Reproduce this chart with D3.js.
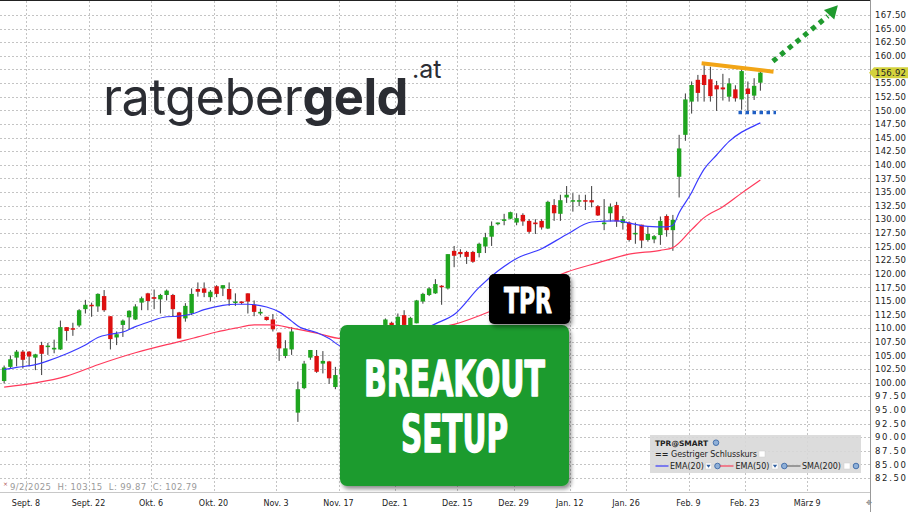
<!DOCTYPE html>
<html><head><meta charset="utf-8">
<script src="https://cdn.jsdelivr.net/npm/d3@7"></script>
<style>body{margin:0;background:#fff;}svg{display:block;}</style>
</head><body><svg id="c" width="911" height="512"></svg>
<script>
// ---------- DATA ----------
const firstDay = "2025-09-02";
const lastCalendarDay = "2026-03-20";
const holidays = ["2025-11-27","2025-12-25","2026-01-01","2026-01-19","2026-02-16"];

const open = [
100.3,102.9,104.6,105.7,105.7,104.6,106.9,106.6,106.1,106.1,
110.2,110.0,110.5,113.5,114.3,114.0,115.9,112.2,108.3,110.6,
112.0,111.6,114.7,116.4,115.7,115.3,116.1,116.1,112.9,111.8,
112.7,117.2,117.3,115.7,117.7,117.3,117.2,114.7,114.9,116.4,
114.3,112.7,112.1,111.6,109.2,104.9,106.1,94.5,99.0,104.6,
104.9,103.5,103.9,99.2,101.6,102.8,105.3,106.5,107.6,108.5,
109.4,110.6,111.0,110.0,112.4,110.4,110.9,114.9,116.1,116.4,
117.8,117.3,124.2,124.0,124.0,124.0,123.8,125.0,126.8,129.1,
129.7,130.1,129.4,130.8,129.7,129.4,129.7,128.3,132.6,131.0,
134.0,133.4,133.4,133.5,133.5,132.4,129.1,131.1,132.6,129.3,
129.4,127.3,129.0,126.2,126.3,127.1,130.6,128.0,137.8,145.5,
151.6,155.6,156.5,155.7,154.6,154.2,152.5,153.85,152.0,154.0,
152.7,155.07];
const high = [
103.15,105.0,106.0,106.0,105.8,105.3,107.5,107.3,107.9,111.4,
110.2,111.0,113.5,115.2,114.7,116.4,117.0,112.2,109.4,111.6,
113.3,114.4,115.8,116.5,117.1,116.3,117.1,116.3,113.0,114.6,
117.3,118.4,118.4,117.0,117.9,117.9,118.4,116.4,114.9,116.4,
115.1,113.6,112.1,112.6,109.2,107.8,110.2,100.2,104.0,106.0,
106.0,105.8,104.0,102.9,103.0,105.5,107.0,108.2,109.0,110.0,
110.3,111.8,111.2,112.7,113.3,112.1,115.2,116.5,117.5,119.0,
117.9,123.6,125.1,124.5,124.2,124.2,125.7,127.5,129.6,129.4,
131.0,131.4,131.1,131.1,130.0,130.0,130.0,133.4,133.7,134.5,
136.1,134.8,134.5,134.5,136.1,132.6,133.7,132.9,133.2,130.6,
129.6,129.4,129.0,128.6,127.1,130.5,130.9,130.8,145.5,153.1,
155.3,156.5,158.3,158.0,155.4,156.7,155.9,154.6,158.0,155.3,
155.9,157.4];
const low = [
99.87,102.7,103.0,102.6,103.0,102.3,101.4,105.1,105.4,106.0,
107.7,108.6,110.2,112.7,112.1,113.0,113.0,106.1,106.9,108.4,
109.8,111.5,113.3,113.3,113.5,112.7,115.1,112.2,108.1,111.2,
112.4,115.8,115.7,114.9,115.7,115.9,114.1,114.1,114.4,112.7,
112.2,112.4,111.4,109.4,104.0,104.5,105.1,92.8,98.8,104.2,
101.8,101.7,99.8,98.8,99.8,102.5,104.6,105.9,106.8,107.9,
108.6,110.0,109.8,109.6,110.2,110.0,110.9,114.5,115.9,116.3,
114.3,117.1,121.2,123.0,121.8,122.0,123.0,123.8,125.1,128.9,
128.9,130.0,128.9,128.8,127.4,127.3,128.1,128.2,129.7,129.7,
133.0,131.4,132.4,131.7,132.2,130.6,128.0,129.6,128.6,128.1,
125.9,125.5,124.7,125.9,125.6,125.3,126.8,124.2,134.0,144.4,
149.4,151.6,151.6,151.6,149.9,151.8,151.6,151.6,150.1,149.9,
151.9,153.6];
const close = [
102.79,104.3,105.7,104.2,104.8,105.2,105.3,106.8,106.4,110.2,
109.5,109.8,113.3,114.3,114.1,116.3,113.3,108.0,108.9,111.4,
113.2,114.0,115.5,115.0,115.4,116.1,116.9,113.5,108.1,114.1,
116.3,116.7,116.5,116.7,116.3,117.9,115.3,114.9,114.7,114.9,
113.0,113.0,111.5,109.8,106.3,106.3,109.4,98.8,103.5,106.0,
102.0,104.0,100.8,101.4,102.6,105.1,106.4,107.8,108.3,109.6,
109.9,111.6,110.5,112.1,110.6,111.9,115.1,116.3,117.3,118.1,
117.6,123.6,123.3,123.6,123.1,122.2,125.5,126.7,128.8,129.4,
130.0,131.3,130.2,129.6,127.7,129.1,128.5,133.2,131.1,133.5,
134.5,133.5,133.5,133.3,133.1,130.7,129.4,132.3,129.6,130.0,
126.2,127.5,126.1,127.3,126.9,129.7,128.0,129.9,143.0,152.0,
154.65,153.2,154.65,152.6,153.85,153.85,154.95,152.2,157.2,153.0,
154.5,156.92];

// EMA values at given trading-day indices
const ema20Days = [0,2,5,7,10,13,15,17,19,21,23,26,28,30,32,35,37,39,42,44,46,47,50,52,54,58,63,69,72,76,79,82,86,90,94,98,100,103,106,107,108,110,111,112,114,116,118,119,121];
const ema20 = [102.4,102.8,103.3,104.0,105.3,106.9,108.3,108.9,109.3,110.3,111.1,112.1,112.2,112.6,113.4,114.2,114.4,114.4,113.9,113.0,111.3,110.4,109.2,108.1,106.6,105.8,107.5,110.8,112.5,117.5,120.5,122.8,124.6,127.2,129.5,129.7,129.3,128.7,128.6,128.9,131.2,134.9,137.2,139.2,141.8,144.3,146.0,146.6,147.7];
const ema50Days = [0,5,10,15,21,26,29,31,34,37,40,43,46,50,54,60,66,72,78,90,95,100,105,107,110,112,115,118,121];
const ema50 = [99.2,99.95,101.2,103.3,105.5,107.0,107.8,108.4,109.3,110.0,110.6,110.6,110.0,109.1,108.1,108.3,109.5,110.7,113.2,120.3,122.0,123.6,124.3,124.8,128.1,130.3,132.3,134.8,137.2];

const yTickValues = [82.5,85,87.5,90,92.5,95,97.5,100,102.5,105,107.5,110,112.5,115,117.5,120,122.5,125,127.5,130,132.5,135,137.5,140,142.5,145,147.5,150,152.5,155,157.5,160,162.5,165,167.5];
const xTickDates = ["2025-09-08","2025-09-22","2025-10-06","2025-10-20","2025-11-03","2025-11-17","2025-12-01","2025-12-15","2025-12-29","2026-01-12","2026-01-26","2026-02-09","2026-02-23","2026-03-09"];
const xTickLabels = ["Sept. 8","Sept. 22","Okt. 6","Okt. 20","Nov. 3","Nov. 17","Dez. 1","Dez. 15","Dez. 29","Jan. 12","Jan. 26","Feb. 9","Feb. 23","März 9"];
const lastPrice = 156.92;
const infoText = "9/2/2025  H: 103.15  L: 99.87  C: 102.79";
// annotations in chart coordinates [dayIndex, price]
const resistanceLine = [[112.1,158.65],[123.6,157.1]];
const supportLine = [[118.0,149.6],[124.0,149.6]];
const breakoutArrow = [[123.5,159.0],[132.3,167.3]];
const arrowTip = [133.9,169.3];

// ---------- BUILD ----------
function tradingDays(){
  const out=[]; let d=new Date(firstDay+"T00:00:00Z"); const end=new Date(lastCalendarDay+"T00:00:00Z");
  while(d<=end){const wd=d.getUTCDay(); const s=d.toISOString().slice(0,10);
    if(wd!==0&&wd!==6&&!holidays.includes(s)) out.push(s);
    d=new Date(d.getTime()+86400000);}
  return out;
}
const days = tradingDays();
const dayIdx = new Map(days.map((d,i)=>[d,i]));
const candles = close.map((c,i)=>({i, o:open[i], h:high[i], l:low[i], c}));

const W=911,H=512, plotR=870, plotB=492;
const x = d3.scaleLinear().domain([0,139]).range([1, 1+139*6.25]);
const y = d3.scaleLinear().domain([82.5,167.5]).range([478,15]);
const svg = d3.select("#c");
svg.append("rect").attr("width",W).attr("height",H).attr("fill","#fff");

const defs = svg.append("defs");
const f = defs.append("filter").attr("id","sh").attr("x","-10%").attr("y","-10%").attr("width","130%").attr("height","140%");
f.append("feDropShadow").attr("dx",2).attr("dy",3).attr("stdDeviation",2).attr("flood-color","#000").attr("flood-opacity",0.45);

// grid
const grid = svg.append("g").attr("stroke","#c4c4c4").attr("stroke-width",1).attr("stroke-dasharray","2,2");
grid.selectAll("line.h").data(yTickValues).join("line")
  .attr("x1",0).attr("x2",plotR).attr("y1",d=>Math.round(y(d))+0.5).attr("y2",d=>Math.round(y(d))+0.5);
grid.selectAll("line.v").data(xTickDates).join("line")
  .attr("x1",d=>Math.round(x(dayIdx.get(d)))+0.5).attr("x2",d=>Math.round(x(dayIdx.get(d)))+0.5)
  .attr("y1",1).attr("y2",plotB);

// frame
svg.append("line").attr("x1",0).attr("x2",plotR).attr("y1",0.5).attr("y2",0.5).attr("stroke","#222");
svg.append("line").attr("x1",plotR+0.5).attr("x2",plotR+0.5).attr("y1",0).attr("y2",H).attr("stroke","#999");
svg.append("line").attr("x1",0).attr("x2",plotR).attr("y1",plotB+0.5).attr("y2",plotB+0.5).attr("stroke","#c8c8c8");

// candles
const cg = svg.append("g");
const bw = 4.4;
cg.selectAll("line.w").data(candles).join("line")
  .attr("x1",d=>x(d.i+0.5)).attr("x2",d=>x(d.i+0.5))
  .attr("y1",d=>y(d.h)).attr("y2",d=>y(d.l)).attr("stroke","#3a3a3a").attr("stroke-width",1);
cg.selectAll("rect").data(candles).join("rect")
  .attr("x",d=>x(d.i+0.5)-bw/2).attr("width",bw)
  .attr("y",d=>y(Math.max(d.o,d.c))).attr("height",d=>Math.max(1.5,Math.abs(y(d.o)-y(d.c))))
  .attr("fill",d=>d.c>=d.o?"#1fa51f":"#dd1010");

// EMAs
const line = d3.line().x(d=>x(d[0]+0.5)).y(d=>y(d[1])).curve(d3.curveMonotoneX);
svg.append("path").attr("d",line(ema50Days.map((d,k)=>[d,ema50[k]]))).attr("fill","none").attr("stroke","#ff3a5c").attr("stroke-width",1.2);
svg.append("path").attr("d",line(ema20Days.map((d,k)=>[d,ema20[k]]))).attr("fill","none").attr("stroke","#3a3aff").attr("stroke-width",1.2);

// annotations
const pt = d=>[x(d[0]),y(d[1])];
svg.append("line").attr("x1",pt(resistanceLine[0])[0]).attr("y1",pt(resistanceLine[0])[1])
  .attr("x2",pt(resistanceLine[1])[0]).attr("y2",pt(resistanceLine[1])[1])
  .attr("stroke","#f2a516").attr("stroke-width",4);
svg.append("line").attr("x1",pt(supportLine[0])[0]).attr("y1",pt(supportLine[0])[1])
  .attr("x2",pt(supportLine[1])[0]).attr("y2",pt(supportLine[1])[1])
  .attr("stroke","#1f5fc4").attr("stroke-width",3.5).attr("stroke-dasharray","3.5,3.5");
svg.append("line").attr("x1",pt(breakoutArrow[0])[0]).attr("y1",pt(breakoutArrow[0])[1])
  .attr("x2",pt(breakoutArrow[1])[0]).attr("y2",pt(breakoutArrow[1])[1])
  .attr("stroke","#1f9a2e").attr("stroke-width",5).attr("stroke-dasharray","5,5");
{
  const [tx,ty]=pt(arrowTip); const [bx,by]=pt(breakoutArrow[1]);
  const dx=tx-bx, dy=ty-by, L=Math.hypot(dx,dy), ux=dx/L, uy=dy/L, px=-uy, py=ux;
  const cx=tx-ux*13, cy=ty-uy*13;
  svg.append("polygon").attr("points",[[tx,ty],[cx+px*7,cy+py*7],[cx-px*7,cy-py*7]].map(p=>p.join(",")).join(" "))
    .attr("fill","#1f9a2e");
}

// logo
const logo = svg.append("text").attr("x",103).attr("y",115).attr("fill","#2b2d33")
  .style("font-family","Inter, 'Liberation Sans', sans-serif").style("font-size","50px").style("letter-spacing","-0.5px");
logo.append("tspan").text("ratgeber").style("font-weight",400);
logo.append("tspan").text("geld").style("font-weight",700);
{ const w = logo.node().getComputedTextLength(); logo.style("font-size",(50*305/w)+"px"); }
svg.append("text").attr("x",412).attr("y",78).attr("fill","#2b2d33")
  .style("font-family","Inter, 'Liberation Sans', sans-serif").style("font-size","25px").text(".at");

// green box
const cond = "'Liberation Sans Narrow','DejaVu Sans Condensed','Roboto Condensed',sans-serif";
svg.append("rect").attr("x",340).attr("y",325).attr("width",229).attr("height",161).attr("rx",7)
  .attr("fill","#1e9b2d").attr("filter","url(#sh)");
svg.append("text").attr("x",454.5).attr("y",396).attr("text-anchor","middle").attr("fill","#fff")
  .attr("stroke","#fff").attr("stroke-width",1.4).attr("stroke-linejoin","round")
  .style("font-family",cond).style("font-weight",700).style("font-size","50px")
  .attr("textLength",181).attr("lengthAdjust","spacingAndGlyphs").text("BREAKOUT");
svg.append("text").attr("x",454.5).attr("y",451.5).attr("text-anchor","middle").attr("fill","#fff")
  .attr("stroke","#fff").attr("stroke-width",1.4).attr("stroke-linejoin","round")
  .style("font-family",cond).style("font-weight",700).style("font-size","51px")
  .attr("textLength",107).attr("lengthAdjust","spacingAndGlyphs").text("SETUP");

// TPR box
svg.append("rect").attr("x",489).attr("y",274).attr("width",81).attr("height",50).attr("rx",5)
  .attr("fill","#060606").attr("filter","url(#sh)");
svg.append("text").attr("x",528).attr("y",312.5).attr("text-anchor","middle").attr("fill","#fff")
  .attr("stroke","#fff").attr("stroke-width",1).attr("stroke-linejoin","round")
  .style("font-family",cond).style("font-weight",700).style("font-size","36px")
  .attr("textLength",48).attr("lengthAdjust","spacingAndGlyphs").text("TPR");

// legend
const lg = svg.append("g").style("font-family","'DejaVu Sans',Verdana,sans-serif").style("font-size","8px").attr("fill","#222");
lg.append("rect").attr("x",650).attr("y",435).attr("width",211).attr("height",38).attr("fill","#d8d8d8").attr("opacity",0.9);
lg.append("text").attr("x",655).attr("y",445.5).style("font-weight",700).style("font-size","7.5px").text("TPR@SMART");
function gear(cx,cy){lg.append("circle").attr("cx",cx).attr("cy",cy).attr("r",2.8).attr("fill","#8fb0d8").attr("stroke","#2d5d9f").attr("stroke-width",0.8);}
function box(cx,cy,checked){lg.append("rect").attr("x",cx-3).attr("y",cy-3).attr("width",6).attr("height",6).attr("fill","#fff").attr("stroke","#ccc").attr("stroke-width",0.5);
  if(checked) lg.append("path").attr("d",`M${cx-2.2},${cy-1.2}L${cx+2.2},${cy-1.2}L${cx},${cy+1.8}Z`).attr("fill","#2d5d9f");}
gear(716,442.7);
lg.append("text").attr("x",655).attr("y",457).style("font-weight",700).text("==");
lg.append("text").attr("x",671).attr("y",457).attr("textLength",86).text("Gestriger Schlusskurs");
box(762,454,false);
lg.append("line").attr("x1",655.5).attr("x2",668.5).attr("y1",466).attr("y2",466).attr("stroke","#1a1aff");
lg.append("text").attr("x",670).attr("y",469).text("EMA(20)");
box(708.5,466,true); gear(717.5,466);
lg.append("line").attr("x1",720).attr("x2",733.5).attr("y1",466).attr("y2",466).attr("stroke","#ff2040");
lg.append("text").attr("x",735.5).attr("y",469).text("EMA(50)");
box(775,466,true); gear(784.3,466);
lg.append("line").attr("x1",787).attr("x2",800.5).attr("y1",466).attr("y2",466).attr("stroke","#555");
lg.append("text").attr("x",802).attr("y",469).text("SMA(200)");
box(847,466,false); gear(856,466);

// info text
svg.append("text").attr("x",3).attr("y",486).attr("fill","#b05050").style("font-family","'DejaVu Sans',sans-serif").style("font-size","6px").text("×");
svg.append("text").attr("x",10).attr("y",490).attr("fill","#9a9a9a").attr("xml:space","preserve")
  .style("font-family","'DejaVu Sans',Verdana,sans-serif").style("font-size","8.5px")
  .attr("textLength",187).text(infoText);

// x axis labels
svg.append("g").selectAll("text").data(xTickDates).join("text")
  .attr("x",d=>x(dayIdx.get(d))).attr("y",506).attr("text-anchor","middle")
  .attr("fill","#222").style("font-family","'DejaVu Sans',Verdana,sans-serif").style("font-size","8px")
  .text((d,k)=>xTickLabels[k]);

// y axis labels
const yl = svg.append("g").style("font-family","'DejaVu Sans',Verdana,sans-serif").style("font-size","8.5px").attr("fill","#222");
yl.selectAll("text").data(yTickValues.filter(v=>Math.abs(y(v)-y(lastPrice))>6)).join("text")
  .attr("x",875).attr("y",d=>y(d)+3.2).attr("textLength",31).text(d=>d.toFixed(2));
{
  const py=y(lastPrice);
  svg.append("polygon").attr("points",`${plotR-1},${py} ${plotR+4},${py-5.5} ${908},${py-5.5} ${908},${py+5.5} ${plotR+4},${py+5.5}`).attr("fill","#d3d23c");
  svg.append("text").attr("x",875).attr("y",py+3.2).attr("textLength",31).attr("fill","#222")
    .style("font-family","'DejaVu Sans',Verdana,sans-serif").style("font-size","8.5px").text(lastPrice.toFixed(2));
}
svg.append("text").attr("x",866).attr("y",505).attr("fill","#888").style("font-size","7px").text("✥");
</script></body></html>
